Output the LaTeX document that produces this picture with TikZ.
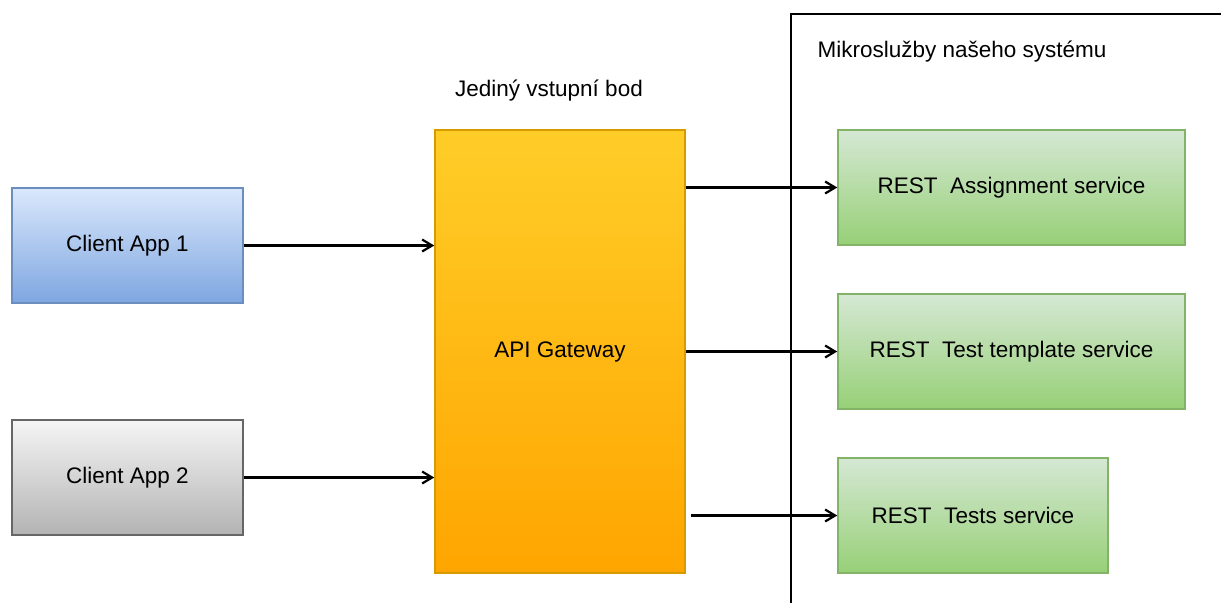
\documentclass[tikz,border=0pt]{standalone}
\usepackage{fontspec}
\setmainfont{Liberation Sans}
\usetikzlibrary{arrows.meta}
\begin{document}
\begin{tikzpicture}[x=1pt,y=-1pt,
  every node/.style={font=\fontsize{22.5}{27}\selectfont},
  box/.style={draw,line width=1.5pt,rectangle,inner sep=0pt},
  client/.style={box,minimum width=231pt,minimum height=115pt},
  gatebox/.style={box,minimum width=250pt,minimum height=443pt},
  svcbox/.style={box,draw=cgrnLine,top color=cgrnTop,bottom color=cgrnBot,minimum height=115pt},
  conn/.style={line width=2.2pt,-{Straight Barb[length=10pt,width=12pt,line width=2.2pt]}},
  frame/.style={line width=2pt}
]
\definecolor{cblueTop}{HTML}{DAE8FC}
\definecolor{cblueBot}{HTML}{7EA6E0}
\definecolor{cblueLine}{HTML}{6C8EBF}
\definecolor{cgrayTop}{HTML}{F5F5F5}
\definecolor{cgrayBot}{HTML}{B3B3B3}
\definecolor{cgrayLine}{HTML}{666666}
\definecolor{corgTop}{HTML}{FFCD28}
\definecolor{corgBot}{HTML}{FFA500}
\definecolor{corgLine}{HTML}{D79B00}
\definecolor{cgrnTop}{HTML}{D5E8D4}
\definecolor{cgrnBot}{HTML}{97D077}
\definecolor{cgrnLine}{HTML}{82B366}
\useasboundingbox (0,0) rectangle (1221,603);

% services area
\draw[frame] (791,603) -- (791,14) -- (1221,14);
\node[anchor=west] (sysl) at (814,52) {Mikroslužby našeho systému};

% clients
\node[client,draw=cblueLine,top color=cblueTop,bottom color=cblueBot] (c1) at (127.5,245.5) {Client App 1};
\node[client,draw=cgrayLine,top color=cgrayTop,bottom color=cgrayBot] (c2) at (127.5,477.5) {Client App 2};

% gateway
\node[gatebox,draw=corgLine,top color=corgTop,bottom color=corgBot] (gw) at (560,351.5) {API Gateway};
\node (gwl) at (549,91) {Jediný vstupní bod};

% services
\node[svcbox,minimum width=347pt] (s1) at (1011.5,187.5) {REST\ \ Assignment service};
\node[svcbox,minimum width=347pt] (s2) at (1011.5,351.5) {REST\ \ Test template service};
\node[svcbox,minimum width=270pt] (s3) at (973,515.5) {REST\ \ Tests service};

% connectors
\draw[conn] (c1.east) -- (gw.west |- c1.east);
\draw[conn] (c2.east) -- (gw.west |- c2.east);
\draw[conn] (gw.east |- s1.west) -- (s1.west);
\draw[conn] (gw.east |- s2.west) -- (s2.west);
\draw[conn] ([xshift=5pt]gw.east |- s3.west) -- (s3.west);
\end{tikzpicture}
\end{document}
